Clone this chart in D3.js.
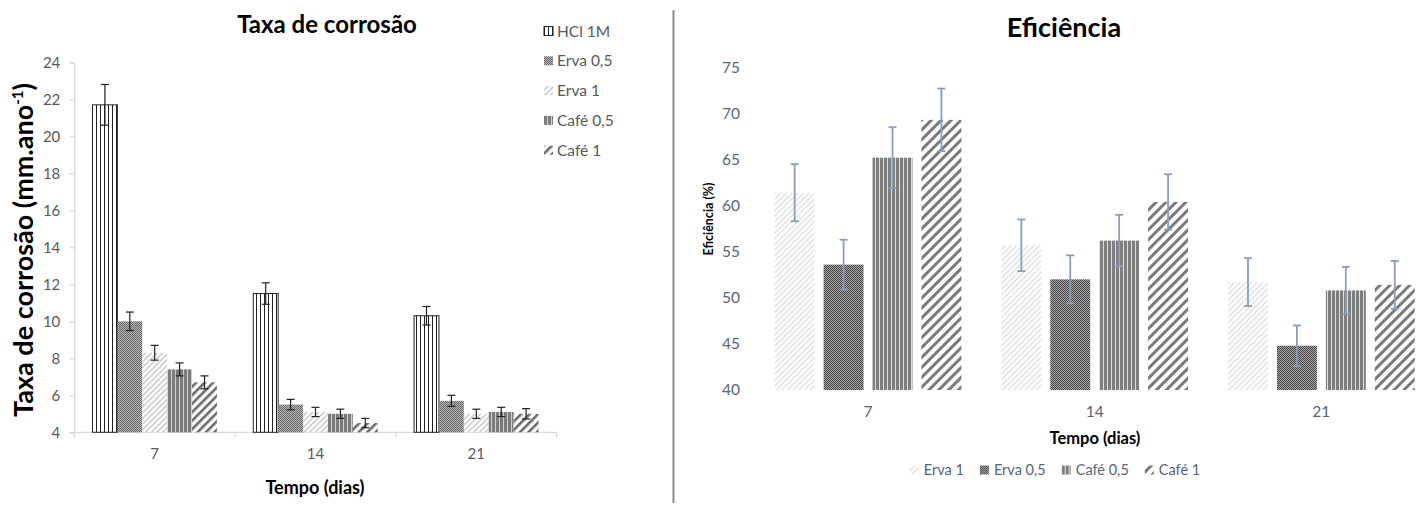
<!DOCTYPE html>
<html>
<head>
<meta charset="utf-8">
<script src="https://cdn.jsdelivr.net/npm/d3@7"></script>
<style>
  html, body { margin: 0; padding: 0; background: #fff; }
  svg { display: block; font-family: Lato, "Open Sans", sans-serif; }
</style>
</head>
<body>
<svg id="chart" width="1422" height="507"></svg>
<script>
// ---- shared categories (days) ----
const categories = ["7", "14", "21"];

// ---- corrosion rate (mm.ano-1) ----
const corrSeries = ["HCl 1M", "Erva 0,5", "Erva 1", "Café 0,5", "Café 1"];
const corrHCl      = [21.7, 11.5, 10.3];
const corrErva05   = [10.0, 5.5, 5.7];
const corrErva1    = [8.3, 5.1, 5.0];
const corrCafe05   = [7.4, 5.0, 5.1];
const corrCafe1    = [6.7, 4.5, 5.0];
const corrHClErr   = [1.1, 0.58, 0.5];
const corrErva05Err = [0.5, 0.28, 0.3];
const corrErva1Err  = [0.4, 0.25, 0.25];
const corrCafe05Err = [0.35, 0.25, 0.25];
const corrCafe1Err  = [0.35, 0.25, 0.28];
const corrTicks = [4, 6, 8, 10, 12, 14, 16, 18, 20, 22, 24];

// ---- inhibition efficiency (%) ----
const effSeries = ["Erva 1", "Erva 0,5", "Café 0,5", "Café 1"];
const effErva1    = [61.4, 55.7, 51.7];
const effErva05   = [53.6, 52.0, 44.8];
const effCafe05   = [65.2, 56.2, 50.8];
const effCafe1    = [69.3, 60.4, 51.4];
const effErva1Err  = [3.1, 2.8, 2.6];
const effErva05Err = [2.7, 2.6, 2.2];
const effCafe05Err = [3.3, 2.8, 2.55];
const effCafe1Err  = [3.4, 3.0, 2.6];
const effTicks = [40, 45, 50, 55, 60, 65, 70, 75];

const svg = d3.select("#chart");
const defs = svg.append("defs");

// ---- fill patterns ----
function stripes(id, period, lineW, fg, bg, angle) {
  const p = defs.append("pattern").attr("id", id)
    .attr("patternUnits", "userSpaceOnUse")
    .attr("width", period).attr("height", period);
  if (angle) p.attr("patternTransform", `rotate(${angle})`);
  p.append("rect").attr("width", period).attr("height", period).attr("fill", bg);
  p.append("rect").attr("width", lineW).attr("height", period).attr("fill", fg);
}
function checker(id, a, b) {
  const p = defs.append("pattern").attr("id", id)
    .attr("patternUnits", "userSpaceOnUse").attr("width", 2).attr("height", 2);
  p.append("rect").attr("width", 2).attr("height", 2).attr("fill", b);
  p.append("rect").attr("width", 1).attr("height", 1).attr("fill", a);
  p.append("rect").attr("x", 1).attr("y", 1).attr("width", 1).attr("height", 1).attr("fill", a);
}
stripes("pHCl", 4, 1, "#222", "#fff", 0);
checker("pErva05L", "#6a6a6a", "#b4b4b4");
stripes("pErva1L", 4, 1.2, "#bdbdbd", "#fff", 45);
stripes("pCafe05L", 4, 3, "#7c7c7c", "#cfcfcf", 0);
stripes("pCafe1L", 6, 2.6, "#6b6b6b", "#fff", 45);

checker("pErva05R", "#454545", "#a8a8a8");
stripes("pErva1R", 4, 1.2, "#dadada", "#fff", 45);
stripes("pCafe05R", 4, 3, "#7f7f7f", "#dedede", 0);
stripes("pCafe1R", 7, 3, "#7a7a7a", "#fff", 45);

// =================== Taxa de corrosão ===================
{
  const corrData = [corrHCl, corrErva05, corrErva1, corrCafe05, corrCafe1];
  const corrErr = [corrHClErr, corrErva05Err, corrErva1Err, corrCafe05Err, corrCafe1Err];
  const fills = ["url(#pHCl)", "url(#pErva05L)", "url(#pErva1L)", "url(#pCafe05L)", "url(#pCafe1L)"];

  const x0 = d3.scaleBand().domain(categories).range([74.3, 556.7]);
  const bw = x0.bandwidth();
  const gap = bw * 0.113;
  const x1 = d3.scaleBand().domain(corrSeries).range([gap, bw - gap]);
  const y = d3.scaleLinear().domain([4, 24]).range([432.3, 62.3]);

  const g = svg.append("g");

  // y axis
  const yAxis = g.append("g").attr("transform", "translate(74.3,0)")
    .call(d3.axisLeft(y).tickValues(corrTicks).tickSize(5).tickPadding(9));
  yAxis.select(".domain").attr("stroke", "#d0d0d0");
  yAxis.selectAll(".tick line").attr("stroke", "#d0d0d0");
  yAxis.selectAll("text").attr("fill", "#595959").attr("font-size", 15)
    .attr("font-family", "Lato, sans-serif");

  // x axis with ticks at category boundaries
  g.append("line").attr("x1", 74.3).attr("x2", 556.7)
    .attr("y1", y(4)).attr("y2", y(4)).attr("stroke", "#d0d0d0");
  const bounds = categories.map(c => x0(c)).concat([x0(categories[2]) + bw]);
  g.selectAll(".xt").data(bounds).join("line")
    .attr("x1", d => d).attr("x2", d => d)
    .attr("y1", y(4)).attr("y2", y(4) + 5).attr("stroke", "#d0d0d0");
  g.selectAll(".xl").data(categories).join("text")
    .attr("x", d => x0(d) + bw / 2).attr("y", 459)
    .attr("text-anchor", "middle").attr("fill", "#595959").attr("font-size", 15)
    .text(d => d);

  // bars
  corrSeries.forEach((s, si) => {
    const vals = corrData[si];
    const errs = corrErr[si];
    g.selectAll(null).data(categories).join("rect")
      .attr("x", c => x0(c) + x1(s))
      .attr("y", (c, i) => y(vals[i]))
      .attr("width", x1.bandwidth())
      .attr("height", (c, i) => y(4) - y(vals[i]))
      .attr("fill", fills[si])
      .attr("stroke", si === 0 ? "#222" : "none")
      .attr("stroke-width", 1);
    // error bars
    const eg = g.selectAll(null).data(categories).join("g")
      .attr("stroke", "#222").attr("stroke-width", 1.2);
    eg.append("line")
      .attr("x1", c => x0(c) + x1(s) + x1.bandwidth() / 2)
      .attr("x2", c => x0(c) + x1(s) + x1.bandwidth() / 2)
      .attr("y1", (c, i) => y(vals[i] + errs[i]))
      .attr("y2", (c, i) => y(vals[i] - errs[i]));
    [1, -1].forEach(sign => {
      eg.append("line")
        .attr("x1", c => x0(c) + x1(s) + x1.bandwidth() / 2 - 4)
        .attr("x2", c => x0(c) + x1(s) + x1.bandwidth() / 2 + 4)
        .attr("y1", (c, i) => y(vals[i] + sign * errs[i]))
        .attr("y2", (c, i) => y(vals[i] + sign * errs[i]));
    });
  });

  // titles
  g.append("text").attr("x", 327).attr("y", 33).attr("text-anchor", "middle")
    .attr("font-size", 24).attr("font-weight", "bold").attr("fill", "#000")
    .text("Taxa de corrosão");
  g.append("text").attr("x", 315).attr("y", 494).attr("text-anchor", "middle")
    .attr("font-size", 18).attr("font-weight", "bold").attr("fill", "#000")
    .text("Tempo (dias)");
  const yt = g.append("text")
    .attr("transform", "translate(33,250) rotate(-90)")
    .attr("text-anchor", "middle").attr("font-size", 27).attr("font-weight", "bold")
    .attr("fill", "#000");
  yt.append("tspan").text("Taxa de corrosão (mm.ano");
  yt.append("tspan").attr("dy", -10).attr("font-size", 15).text("-1");
  yt.append("tspan").attr("dy", 10).text(")");

  // legend
  const lg = g.append("g");
  corrSeries.forEach((s, si) => {
    const ly = 31 + si * 29.8;
    lg.append("rect").attr("x", 544).attr("y", ly - 4.5).attr("width", 9).attr("height", 9)
      .attr("fill", fills[si]).attr("stroke", si === 0 ? "#222" : "none");
    lg.append("text").attr("x", 557).attr("y", ly + 5.5).attr("font-size", 15.5)
      .attr("fill", "#595959").text(s);
  });
}

// divider between the two charts
svg.append("line").attr("x1", 673.5).attr("x2", 673.5).attr("y1", 10).attr("y2", 503)
  .attr("stroke", "#8a8a8a").attr("stroke-width", 2);

// =================== Eficiência ===================
{
  const effData = [effErva1, effErva05, effCafe05, effCafe1];
  const effErr = [effErva1Err, effErva05Err, effCafe05Err, effCafe1Err];
  const fills = ["url(#pErva1R)", "url(#pErva05R)", "url(#pCafe05R)", "url(#pCafe1R)"];
  const textCol = "#56657a";

  const x0 = d3.scaleBand().domain(categories).range([754.7, 1434.7]);
  const bw = x0.bandwidth();
  const x1 = d3.scaleBand().domain(effSeries).range([20, bw - 20]).paddingInner(0.184);
  const y = d3.scaleLinear().domain([40, 75]).range([390, 67.3]);

  const g = svg.append("g");

  const yAxis = g.append("g").attr("transform", "translate(746,0)")
    .call(d3.axisLeft(y).tickValues(effTicks).tickSize(0).tickPadding(6));
  yAxis.select(".domain").remove();
  yAxis.selectAll("text").attr("fill", textCol).attr("font-size", 15.5)
    .attr("font-family", "Lato, sans-serif");

  g.selectAll(".xl").data(categories).join("text")
    .attr("x", d => x0(d) + bw / 2).attr("y", 417)
    .attr("text-anchor", "middle").attr("fill", textCol).attr("font-size", 15.5)
    .text(d => d);

  effSeries.forEach((s, si) => {
    const vals = effData[si];
    g.selectAll(null).data(categories).join("rect")
      .attr("x", c => x0(c) + x1(s))
      .attr("y", (c, i) => y(vals[i]))
      .attr("width", x1.bandwidth())
      .attr("height", (c, i) => y(40) - y(vals[i]))
      .attr("fill", fills[si]);
  });
  effSeries.forEach((s, si) => {
    const vals = effData[si];
    const errs = effErr[si];
    const eg = g.selectAll(null).data(categories).join("g")
      .attr("stroke", "#8b9dbb").attr("stroke-width", 1.8);
    const cx = c => x0(c) + x1(s) + x1.bandwidth() / 2;
    eg.append("line").attr("x1", cx).attr("x2", cx)
      .attr("y1", (c, i) => y(vals[i] + errs[i]))
      .attr("y2", (c, i) => y(vals[i] - errs[i]));
    [1, -1].forEach(sign => {
      eg.append("line")
        .attr("x1", c => cx(c) - 4).attr("x2", c => cx(c) + 4)
        .attr("y1", (c, i) => y(vals[i] + sign * errs[i]))
        .attr("y2", (c, i) => y(vals[i] + sign * errs[i]));
    });
  });

  g.append("text").attr("x", 1064).attr("y", 37).attr("text-anchor", "middle")
    .attr("font-size", 27).attr("font-weight", "bold").attr("fill", "#000")
    .text("Eficiência");
  g.append("text").attr("x", 1095).attr("y", 444).attr("text-anchor", "middle")
    .attr("font-size", 16.5).attr("font-weight", "bold").attr("fill", "#000")
    .text("Tempo (dias)");
  g.append("text").attr("transform", "translate(712.5,219) rotate(-90)")
    .attr("text-anchor", "middle").attr("font-size", 12.5).attr("font-weight", "bold")
    .attr("fill", "#000").text("Eficiência (%)");

  // legend, laid out left to right and centred
  const lg = g.append("g");
  let cursor = 0;
  effSeries.forEach((s, si) => {
    const item = lg.append("g").attr("transform", `translate(${cursor},0)`);
    item.append("rect").attr("x", 0).attr("y", -4.5).attr("width", 9).attr("height", 9)
      .attr("fill", fills[si]);
    const t = item.append("text").attr("x", 14).attr("y", 5).attr("font-size", 14.5)
      .attr("fill", textCol).text(s);
    cursor += 14 + t.node().getComputedTextLength() + 16;
  });
  const total = cursor - 16;
  lg.attr("transform", `translate(${1055 - total / 2},470)`);
}
</script>
</body>
</html>
